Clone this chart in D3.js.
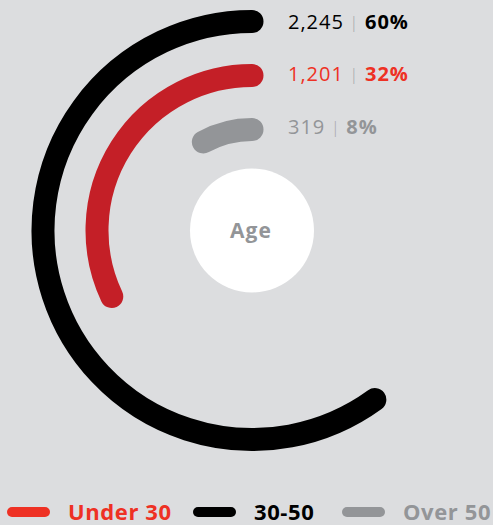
<!DOCTYPE html>
<html lang="en">
<head>
<meta charset="UTF-8">
<title>Age</title>
<style>
  body { margin: 0; background: #dcdddf; }
  svg { display: block; font-family: "Open Sans", sans-serif; }
</style>
</head>
<body>
<svg id="chart" width="493" height="525"></svg>
<script src="https://d3js.org/d3.v7.min.js"></script>
<script>

// data, outer ring first
let groups = ["30-50", "Under 30", "Over 50"];
let counts = [2245, 1201, 319];
let shares = [60, 32, 8];

// legend order
let legendGroups = ["Under 30", "30-50", "Over 50"];

let arcColor = {"30-50": "#000000", "Under 30": "#c41f27", "Over 50": "#939598"};
let textColor = {"30-50": "#000000", "Under 30": "#ee3124", "Over 50": "#939598"};

let svg = d3.select("#chart");
let cx = 252, cy = 230.5;

// ring radius per group
let rScale = d3.scalePoint()
    .domain(groups)
    .range([209, 101]);

// label baselines
let labelY = d3.scalePoint()
    .domain(groups)
    .range([28.5, 133.5]);

// share -> angle, counterclockwise from 12 o'clock
let angle = d3.scaleLinear()
    .domain([0, 100])
    .range([-Math.PI / 2, -Math.PI / 2 - 2 * Math.PI]);

let rings = svg.append("g");

rings.selectAll("path")
    .data(groups)
    .enter()
    .append("path")
    .attr("d", (d, i) => {
        let p = d3.path();
        let r = rScale(d);
        p.moveTo(cx + r * Math.cos(angle(0)), cy + r * Math.sin(angle(0)));
        p.arc(cx, cy, r, angle(0), angle(shares[i]), true);
        return p.toString();
    })
    .attr("fill", "none")
    .attr("stroke", d => arcColor[d])
    .attr("stroke-width", 23)
    .attr("stroke-linecap", "round");

// value labels
let labels = svg.append("g");
let lab = labels.selectAll("text")
    .data(groups)
    .enter()
    .append("text")
    .attr("x", 288)
    .attr("y", d => labelY(d))
    .attr("font-size", 20)
    .attr("letter-spacing", 1)
    .attr("fill", d => textColor[d]);

lab.append("tspan")
    .attr("font-weight", 400)
    .text((d, i) => d3.format(",")(counts[i]));
lab.append("tspan")
    .attr("fill", "#a7a9ac")
    .attr("font-weight", 300)
    .attr("font-size", 17)
    .attr("dy", -1)
    .text(" | ");
lab.append("tspan")
    .attr("font-weight", 700)
    .attr("dy", 1)
    .text((d, i) => shares[i] + "%");

// centre
svg.append("circle")
    .attr("cx", cx)
    .attr("cy", cy)
    .attr("r", 62)
    .attr("fill", "#ffffff");

svg.append("text")
    .attr("x", cx - 1)
    .attr("y", 238)
    .attr("text-anchor", "middle")
    .attr("font-size", 21)
    .attr("letter-spacing", 1)
    .attr("font-weight", 700)
    .attr("fill", "#939598")
    .text("Age");

// legend
let legendX = d3.scaleOrdinal()
    .domain(legendGroups)
    .range([7, 193, 342]);

let legend = svg.append("g")
    .selectAll("g")
    .data(legendGroups)
    .enter()
    .append("g")
    .attr("transform", d => "translate(" + legendX(d) + ",512)");

legend.append("line")
    .attr("x1", 5)
    .attr("x2", 38)
    .attr("stroke", d => textColor[d])
    .attr("stroke-width", 10)
    .attr("stroke-linecap", "round");

legend.append("text")
    .attr("x", 61)
    .attr("y", 7.5)
    .attr("font-size", 22)
    .attr("letter-spacing", 0.6)
    .attr("font-weight", 700)
    .attr("fill", d => textColor[d])
    .text(d => d);

</script>
</body>
</html>
